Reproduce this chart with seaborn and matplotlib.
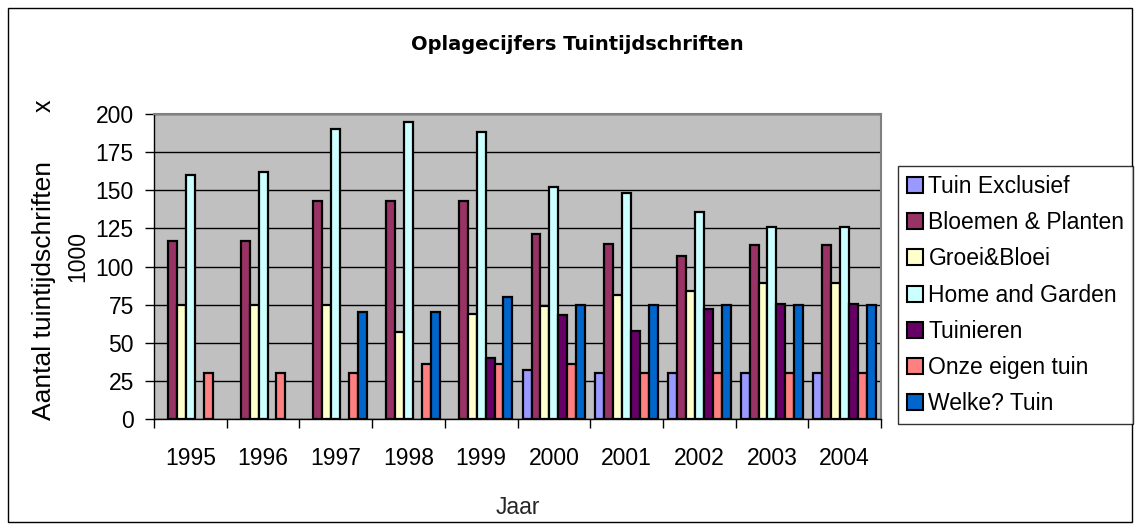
import matplotlib
matplotlib.use("Agg")
import matplotlib.pyplot as plt
import matplotlib.patches as mpatches
import numpy as np
import pandas as pd
import seaborn as sns

nan = np.nan
years = ["1995", "1996", "1997", "1998", "1999", "2000", "2001", "2002", "2003", "2004"]
series = ["Tuin Exclusief", "Bloemen & Planten", "Groei&Bloei", "Home and Garden",
          "Tuinieren", "Onze eigen tuin", "Welke? Tuin"]

tuin_exclusief = [nan, nan, nan, nan, nan, 32, 30, 30, 30, 30]
bloemen_planten = [117, 117, 143, 143, 143, 121, 115, 107, 114, 114]
groei_bloei = [75, 75, 75, 57, 69, 74, 81, 84, 89.5, 89.5]
home_garden = [160, 162, 190, 194.5, 188.5, 152, 148, 136, 126, 126]
tuinieren = [nan, nan, nan, nan, 40, 68, 58, 72, 75.5, 75.5]
onze_eigen_tuin = [30, 30, 30, 36, 36, 36, 30, 30, 30, 30]
welke_tuin = [nan, nan, 70, 70, 80, 75, 75, 75, 75, 75]

colors = ["#9999FF", "#993366", "#FFFFCC", "#CCFFFF", "#660066", "#FF8080", "#0066CC"]

values = [tuin_exclusief, bloemen_planten, groei_bloei, home_garden,
          tuinieren, onze_eigen_tuin, welke_tuin]
rows = []
for name, vals in zip(series, values):
    for y, v in zip(years, vals):
        rows.append({"Jaar": y, "serie": name, "waarde": v})
df = pd.DataFrame(rows)

sns.set_style("white")
plt.rcParams["font.family"] = ["Liberation Sans", "DejaVu Sans"]
plt.rcParams["text.color"] = "black"
plt.rcParams["xtick.color"] = "black"
plt.rcParams["ytick.color"] = "black"

W, H = 1135, 530
fig = plt.figure(figsize=(W / 100, H / 100), dpi=100)
ax = fig.add_axes([154 / W, 1 - 419 / H, (881 - 154) / W, (419 - 114) / H])
ax.set_facecolor("#C0C0C0")

sns.barplot(data=df, x="Jaar", y="waarde", hue="serie", order=years, hue_order=series,
            palette=colors, saturation=1, width=0.86, edgecolor="black", linewidth=1.6,
            errorbar=None, ax=ax, zorder=3)

ax.set_ylim(0, 200)
ax.set_xlim(-0.5, 9.5)
ax.set_yticks(np.arange(0, 201, 25))
ax.yaxis.grid(True, color="black", linewidth=1, zorder=0)
ax.set_axisbelow(True)
ax.tick_params(axis="y", labelsize=16.5, length=6.5, direction="out", left=True,
               width=1, pad=8)
ax.tick_params(axis="x", which="major", labelsize=16.5, length=0, pad=20)
ax.set_xticks(np.arange(-0.5, 10, 1), minor=True)
ax.tick_params(axis="x", which="minor", length=6.5, direction="out", bottom=True, width=1)

for s in ["top", "right"]:
    ax.spines[s].set_color("#808080")
    ax.spines[s].set_linewidth(1.5)
for s in ["left", "bottom"]:
    ax.spines[s].set_color("black")
    ax.spines[s].set_linewidth(1)

ax.set_xlabel("Jaar", fontsize=16.5, labelpad=19)
ax.set_ylabel("")
fig.text(44 / W, 1 - 291 / H, "Aantal tuintijdschriften", rotation=90, fontsize=19,
         ha="center", va="center")
fig.text(44 / W, 1 - 106 / H, "x", rotation=90, fontsize=18, ha="center", va="center")
fig.text(78 / W, 1 - 257 / H, "1000", rotation=90, fontsize=16.5, ha="center", va="center")

fig.text(577 / W, 1 - 44 / H, "Oplagecijfers Tuintijdschriften", fontsize=14,
         fontweight="bold", family="DejaVu Sans", ha="center", va="center")

ax.get_legend().remove()
handles = [mpatches.Patch(facecolor=c, edgecolor="black", linewidth=1.5) for c in colors]
leg = fig.legend(handles, series, loc="upper left", bbox_to_anchor=(898 / W, 1 - 166 / H),
                 fontsize=16.5, frameon=True, fancybox=False, edgecolor="black",
                 handlelength=0.7, handleheight=0.7, handletextpad=0.25,
                 labelspacing=0.58, borderpad=0.38, borderaxespad=0)
leg.get_frame().set_linewidth(1)

border = mpatches.Rectangle((8 / W, 8 / H), 1124 / W, 514 / H,
                            transform=fig.transFigure, fill=False, edgecolor="black",
                            linewidth=1)
fig.patches.append(border)

fig.savefig("out.png", dpi=100, facecolor="white")
